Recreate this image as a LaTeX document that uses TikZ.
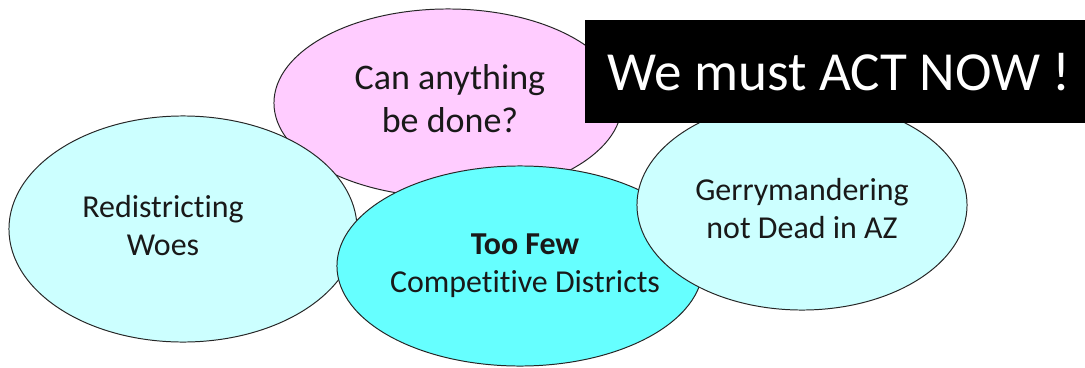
\documentclass[tikz,border=0pt]{standalone}
\usepackage{fontspec}
\setmainfont{Carlito}[Ligatures=NoCommon]
\usetikzlibrary{shapes.geometric}
\definecolor{mypink}{RGB}{255,204,255}
\definecolor{mylightcyan}{RGB}{204,255,255}
\definecolor{mycyan}{RGB}{102,255,255}

\begin{document}
\begin{tikzpicture}[x=0.025cm,y=-0.025cm,
  bubble/.style={ellipse,draw=black!85,line width=0.7pt,inner sep=0pt},
  btext/.style={align=center,font=\fontsize{22.7}{27}\selectfont,text=black!90},
  banner/.style={rectangle,fill=black,inner sep=0pt,minimum width=12.5cm,
  minimum height=2.575cm}]

 \useasboundingbox (0,0) rectangle (1085,368);

 % bubbles, back to front
 \node[bubble,fill=mypink,minimum width=8.7cm,minimum height=4.7cm] (done) at (448,103) {};
 \node[bubble,fill=mylightcyan,minimum width=8.7cm,minimum height=5.65cm] (woes) at (183,229) {};
 \node[bubble,fill=mycyan,minimum width=9.15cm,minimum height=5cm] (few) at (520,266) {};
 \node[bubble,fill=mylightcyan,minimum width=8.25cm,minimum height=5.25cm] (gerry) at (802,205) {};

 % texts
 \node[btext,font=\fontsize{25.6}{30.5}\selectfont] (donetxt) at (450,99) {Can anything\\be done?};
 \node[btext] (woestxt) at (163,226) {Redistricting\\Woes};
 \node[btext] (fewtxt) at (525,266) {\textbf{Too Few}\\Competitive Districts};
 \node[btext] (gerrytxt) at (802,209) {Gerrymandering\\not Dead in AZ};

 % banner on top
 \node[banner] (act) at (835,71.5) {};
 \node[text=white,font=\fontsize{39.2}{47}\selectfont] (acttxt) at (839,72) {We must ACT NOW !};

\end{tikzpicture}
\end{document}
